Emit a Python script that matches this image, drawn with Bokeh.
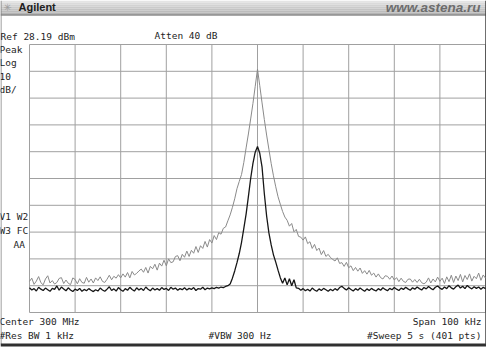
import numpy as np
from bokeh.plotting import figure
from bokeh.models import Range1d
from bokeh.core.properties import value
from bokeh.embed import file_html
from bokeh.resources import INLINE

# ---------------- data ----------------
ref_level = 28.19      # dBm, top graticule line
db_per_div = 10
n_div = 10
center_mhz = 300
span_khz = 100

# trace values in dBm, one value every 0.5 kHz from -50 kHz to +50 kHz
gray_trace = [
    -60.2, -59.0, -61.3, -60.1, -58.4, -60.7, -61.5, -59.3, -58.1, -60.8,
    -59.9, -61.2, -60.6, -59.1, -58.8, -61.0, -59.7, -60.9, -61.4, -58.9,
    -59.5, -61.1, -59.2, -60.6, -60.9, -58.7, -60.5, -59.3, -60.8, -58.9,
    -59.9, -58.5, -60.2, -60.6, -59.4, -57.9, -59.6, -58.3, -59.0, -57.7,
    -58.9, -57.4, -58.6, -56.9, -58.9, -56.5, -57.8, -57.2, -56.3, -55.6,
    -56.8, -55.0, -57.1, -54.6, -55.5, -53.8, -56.0, -53.4, -54.5, -52.3,
    -54.4, -51.8, -53.2, -52.9, -50.9, -50.6, -52.5, -50.1, -51.2, -48.9,
    -50.9, -48.6, -49.7, -47.2, -49.4, -46.9, -47.9, -45.3, -47.4, -44.6,
    -45.9, -43.1, -44.6, -42.0, -42.6, -40.4, -39.9, -37.6, -35.4, -32.6,
    -29.4, -25.6, -22.9, -20.3, -15.8, -10.4, -5.2, 0.4, 6.2, 12.6,
    19.0, 12.8, 6.4, 0.2, -5.6, -10.9, -16.2, -20.8, -24.9, -28.6,
    -31.4, -34.1, -36.2, -37.4, -39.6, -38.6, -41.7, -40.8, -43.4, -43.7,
    -44.8, -43.6, -46.1, -45.4, -47.9, -46.4, -48.7, -47.8, -50.2, -48.7,
    -50.9, -50.1, -51.3, -52.0, -52.6, -51.4, -53.5, -53.2, -54.6, -53.1,
    -55.1, -54.4, -56.2, -55.0, -56.4, -55.2, -57.2, -56.2, -57.5, -56.1,
    -57.9, -57.1, -58.6, -57.4, -58.8, -59.3, -58.1, -58.3, -59.4, -58.2,
    -59.7, -58.8, -60.3, -59.0, -60.2, -60.6, -59.4, -59.3, -60.5, -59.5,
    -60.6, -59.4, -60.7, -61.1, -60.5, -58.9, -60.8, -59.3, -60.4, -58.6,
    -60.2, -59.0, -61.0, -58.5, -60.3, -57.9, -60.6, -58.2, -59.9, -57.6,
    -60.4, -58.0, -59.5, -57.4, -60.1, -58.3, -59.2, -57.1, -59.8, -57.8,
    -59.0,
]

black_trace = [
    -62.6, -63.4, -62.9, -63.8, -62.4, -63.1, -63.6, -62.7, -63.3, -63.9,
    -62.8, -63.2, -61.9, -63.5, -62.3, -63.0, -63.7, -62.6, -63.4, -64.0,
    -63.1, -63.6, -62.8, -63.9, -63.2, -63.7, -62.9, -63.5, -64.0, -63.3,
    -63.8, -62.7, -63.4, -63.9, -63.1, -62.2, -63.6, -63.0, -63.8, -62.5,
    -63.3, -63.9, -62.9, -63.5, -62.4, -63.2, -63.8, -62.6, -63.4, -62.8,
    -63.6, -62.3, -63.1, -63.7, -62.7, -63.4, -62.9, -63.5, -62.5, -63.2,
    -62.8, -63.6, -62.4, -63.1, -62.7, -63.5, -62.9, -63.3, -62.6, -63.4,
    -62.8, -63.2, -62.5, -63.6, -62.9, -63.1, -62.4, -63.3, -62.7, -63.0,
    -62.6, -62.9, -62.4, -62.7, -62.3, -62.5, -62.1, -61.8, -61.2, -59.0,
    -56.3, -53.2, -49.8, -45.6, -40.4, -35.1, -28.6, -21.8, -16.2, -12.0,
    -9.9, -12.4, -17.6, -27.5, -35.8, -42.1, -46.6, -50.3, -53.0, -56.0,
    -58.8, -60.9, -58.9, -61.5, -59.2, -61.8, -59.6, -62.6, -62.8, -63.5,
    -62.9, -63.7, -63.1, -63.8, -62.7, -63.4, -63.9, -63.0, -63.6, -62.8,
    -63.3, -63.9, -63.1, -63.7, -62.9, -63.5, -62.5, -62.0, -62.8, -63.4,
    -62.6, -63.2, -63.8, -62.9, -63.5, -62.7, -63.3, -63.9, -63.0, -63.6,
    -62.8, -63.4, -63.8, -62.9, -63.5, -62.6, -63.2, -63.7, -62.8, -63.3,
    -62.5, -63.1, -63.6, -62.7, -63.2, -62.4, -63.0, -63.5, -62.6, -63.1,
    -62.3, -62.9, -63.4, -62.5, -63.0, -62.1, -62.8, -63.3, -62.4, -61.9,
    -62.7, -63.2, -62.3, -62.9, -61.8, -62.6, -63.1, -62.2, -61.6, -62.7,
    -62.0, -62.9, -61.7, -62.5, -63.0, -62.2, -62.8, -62.3, -63.1, -62.4,
    -62.9,
]

header_left = "Ref 28.19 dBm"
header_mid = "Atten 40 dB"
side_top = ["Peak", "Log", "10", "dB/"]
side_mid = ["V1 W2", "W3 FC"]
side_aa = "AA"
footer_left = ["Center 300 MHz", "#Res BW 1 kHz"]
footer_mid = "#VBW 300 Hz"
footer_right = ["Span 100 kHz", "#Sweep 5 s (401 pts)"]
brand = "Agilent"
site = "www.astena.ru"

# sweep points: evenly spaced across the span, relative to centre
n_pts = len(gray_trace)
freq_khz = (np.arange(n_pts) / (n_pts - 1) - 0.5) * span_khz

# ---------------- layout ----------------
W, H = 486, 347
GL, GR, GT, GB = 29, 485, 44, 312           # graticule box in canvas pixels
kpp = span_khz / (GR - GL)                  # kHz per pixel
dpp = db_per_div * n_div / (GB - GT)        # dB per pixel
x0 = -span_khz / 2 - GL * kpp
x1 = x0 + W * kpp
ytop = ref_level + GT * dpp
ybot = ytop - H * dpp


def X(px):
    return x0 + px * kpp


def Y(py):
    return ytop - py * dpp


p = figure(width=W, height=H, x_range=Range1d(x0, x1), y_range=Range1d(ybot, ytop),
           x_axis_type=None, y_axis_type=None, toolbar_location=None,
           output_backend="svg", min_border=0)
p.outline_line_color = None
p.background_fill_color = "white"
p.border_fill_color = "white"

# title bar (stepped gradient)
bar_cols = ["#e4e4e4", "#dadada", "#d2d2d2", "#cacaca", "#c3c3c3", "#bcbcbc", "#b4b4b4"]
for i, c in enumerate(bar_cols):
    p.quad(left=X(0), right=X(W), top=Y(2 * i), bottom=Y(2 * i + 2),
           fill_color=c, line_color=None)
p.segment(x0=X(0), y0=Y(14.5), x1=X(W), y1=Y(14.5), line_color="#555555", line_width=1)

# window frame
p.segment(x0=X(0.5), y0=Y(0), x1=X(0.5), y1=Y(344), line_color="#808080", line_width=1)
p.segment(x0=X(0), y0=Y(344.5), x1=X(W), y1=Y(344.5), line_color="#303030", line_width=3)

# graticule
xs = [-span_khz / 2 + i * span_khz / n_div for i in range(n_div + 1)]
ys = [ref_level - i * db_per_div for i in range(n_div + 1)]
bottom_lvl = ref_level - n_div * db_per_div
p.segment(x0=xs, y0=[bottom_lvl] * len(xs), x1=xs, y1=[ref_level] * len(xs),
          line_color="#a0a0a0", line_width=1)
p.segment(x0=[xs[0]] * len(ys), y0=ys, x1=[xs[-1]] * len(ys), y1=ys,
          line_color="#a0a0a0", line_width=1)
p.segment(x0=X(485.5), y0=Y(0), x1=X(485.5), y1=Y(344), line_color="#404040", line_width=1.5)

# traces
p.line(freq_khz, gray_trace, line_color="#8a8a8a", line_width=1)
p.line(freq_khz, black_trace, line_color="#161616", line_width=1.3)

MONO = "DejaVu Sans Mono"


def txt(px, py, s, align="left", size="9.5px", font=MONO, color="#1e1e1e", style="normal"):
    p.text(x=[X(px)], y=[Y(py)], text=[s], text_align=align, text_baseline="middle",
           text_font=value(font), text_font_size=size, text_color=color,
           text_font_style=style)


txt(0, 36, header_left)
txt(154, 35, header_mid)
for k, s in enumerate(side_top):
    txt(-1, 49 + 13.3 * k, s)
for k, s in enumerate(side_mid):
    txt(-1, 216 + 14 * k, s)
txt(13, 244, side_aa)
for k, s in enumerate(footer_left):
    txt(-1, 321 + 14 * k, s)
txt(208, 335, footer_mid)
for k, s in enumerate(footer_right):
    txt(481, 321 + 14 * k, s, align="right")

txt(7, 6.5, "\u2733", align="center", size="10px", font="DejaVu Sans", color="#9c9c9c")
txt(18, 6.5, brand, size="11px", font="Liberation Sans", color="#202020", style="bold")
txt(480, 7, site, align="right", size="13.5px", font="Liberation Sans", color="#6c6c6c",
    style="bold italic")

open("out.html", "w").write(file_html(p, INLINE))
